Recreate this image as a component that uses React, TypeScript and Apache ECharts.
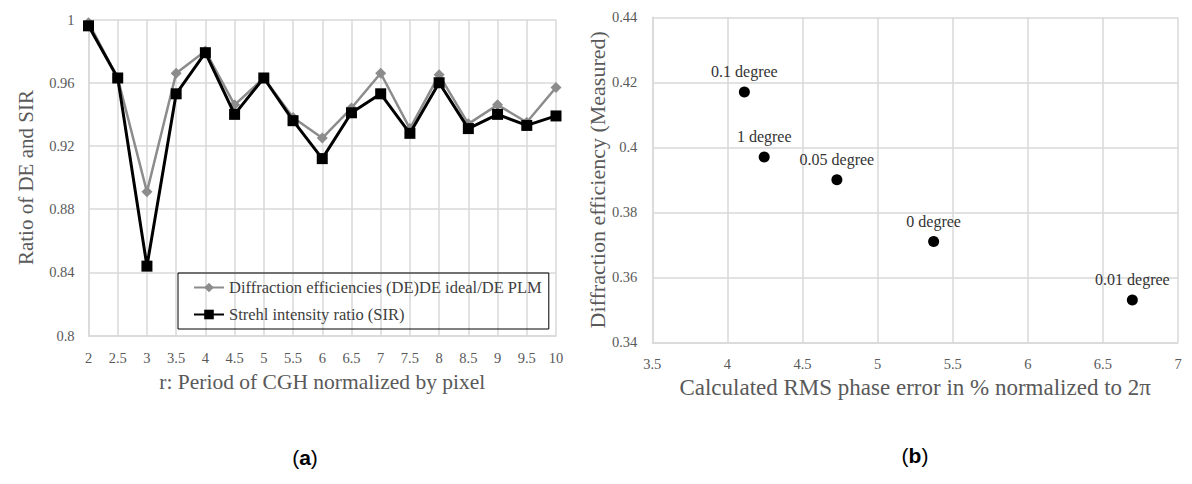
import React, { useEffect, useRef } from "react";
import * as echarts from "echarts";

const periods = [2, 2.5, 3, 3.5, 4, 4.5, 5, 5.5, 6, 6.5, 7, 7.5, 8, 8.5, 9, 9.5, 10];
const deRatio = [0.998, 0.963, 0.891, 0.966, 0.98, 0.946, 0.963, 0.938, 0.925, 0.944, 0.966, 0.931, 0.965, 0.934, 0.946, 0.935, 0.957];
const sirRatio = [0.996, 0.963, 0.844, 0.953, 0.979, 0.94, 0.963, 0.936, 0.912, 0.941, 0.953, 0.928, 0.96, 0.931, 0.94, 0.933, 0.939];

const rmsError = [4.113, 4.245, 4.729, 5.373, 6.696];
const measuredDE = [0.417, 0.397, 0.39, 0.371, 0.353];
const pointLabels = ["0.1 degree", "1 degree", "0.05 degree", "0 degree", "0.01 degree"];

const leftYTicks = [0.8, 0.84, 0.88, 0.92, 0.96, 1];

const FONT = "'Liberation Serif', 'DejaVu Serif', serif";
const GRID = "#d9d9d9";
const TICK = "#595959";

export default function App() {
  const ref = useRef<HTMLDivElement>(null);
  useEffect(() => {
    if (!ref.current) return;
    const chart = echarts.init(ref.current, null, { renderer: "svg" });
    const axisCommon = {
      axisLine: { show: true, lineStyle: { color: GRID, width: 1.5 } },
      axisTick: { show: false },
      splitLine: { show: true, lineStyle: { color: GRID, width: 1.5 } },
      nameLocation: "middle" as const,
    };
    const nameStyle = (size: number) => ({ fontFamily: FONT, color: TICK, fontSize: size });
    chart.setOption({
      animation: false,
      textStyle: { fontFamily: FONT },
      grid: [
        { left: 88.5, top: 19.5, width: 467.5, height: 316.2 },
        { left: 652.3, top: 17.3, width: 525.7, height: 325 },
      ],
      legend: {
        left: 178,
        top: 273,
        orient: "vertical",
        borderColor: "#000",
        borderWidth: 1,
        borderRadius: 0,
        padding: [6, 7, 6, 15],
        itemGap: 10,
        itemWidth: 30,
        itemHeight: 12,
        textStyle: { fontFamily: FONT, fontSize: 16.5, color: "#404040" },
        data: ["Diffraction efficiencies (DE)DE ideal/DE PLM", "Strehl intensity ratio (SIR)"],
      },
      xAxis: [
        {
          ...axisCommon,
          gridIndex: 0,
          type: "value",
          min: 2,
          max: 10,
          interval: 0.5,
          name: "r: Period of CGH normalized by pixel",
          nameGap: 34,
          nameTextStyle: nameStyle(21.5),
          axisLabel: { color: TICK, fontSize: 14.5, fontFamily: FONT, margin: 15 },
        },
        {
          ...axisCommon,
          gridIndex: 1,
          type: "value",
          min: 3.5,
          max: 7,
          interval: 0.5,
          name: "Calculated RMS phase error in % normalized to 2π",
          nameGap: 28,
          nameTextStyle: nameStyle(23),
          axisLabel: { color: TICK, fontSize: 14.5, fontFamily: FONT, margin: 14 },
        },
      ],
      yAxis: [
        {
          ...axisCommon,
          gridIndex: 0,
          type: "value",
          min: 0.8,
          max: 1,
          interval: 0.04,
          name: "Ratio of DE and SIR",
          nameGap: 52,
          nameTextStyle: nameStyle(21),
          axisLabel: {
            color: TICK,
            fontSize: 14.5,
            fontFamily: FONT,
            margin: 14,
            formatter: (v: number) => {
              const t = leftYTicks.find((x) => Math.abs(x - v) < 1e-6);
              return t === undefined ? "" : String(+t.toFixed(2));
            },
          },
        },
        {
          ...axisCommon,
          gridIndex: 1,
          type: "value",
          min: 0.34,
          max: 0.44,
          interval: 0.02,
          name: "Diffraction efficiency (Measured)",
          nameGap: 44,
          nameTextStyle: nameStyle(22),
          axisLabel: {
            color: TICK,
            fontSize: 14.5,
            fontFamily: FONT,
            margin: 15,
            formatter: (v: number) => String(+v.toFixed(2)),
          },
        },
      ],
      series: [
        {
          name: "Diffraction efficiencies (DE)DE ideal/DE PLM",
          type: "line",
          xAxisIndex: 0,
          yAxisIndex: 0,
          data: periods.map((p, i) => [p, deRatio[i]]),
          symbol: "diamond",
          symbolSize: 11,
          lineStyle: { color: "#8c8c8c", width: 2.5 },
          itemStyle: { color: "#8c8c8c" },
          z: 2,
        },
        {
          name: "Strehl intensity ratio (SIR)",
          type: "line",
          xAxisIndex: 0,
          yAxisIndex: 0,
          data: periods.map((p, i) => [p, sirRatio[i]]),
          symbol: "rect",
          symbolSize: 11,
          lineStyle: { color: "#000", width: 3 },
          itemStyle: { color: "#000" },
          z: 3,
        },
        {
          name: "measured",
          type: "scatter",
          xAxisIndex: 1,
          yAxisIndex: 1,
          data: rmsError.map((x, i) => ({ value: [x, measuredDE[i]], name: pointLabels[i] })),
          symbol: "circle",
          symbolSize: 11,
          itemStyle: { color: "#000", opacity: 1 },
          label: {
            show: true,
            position: "top",
            distance: 7,
            formatter: (p: any) => p.name,
            color: "#333",
            fontSize: 16,
            fontFamily: FONT,
          },
        },
      ],
      graphic: [
        {
          type: "text",
          x: 305,
          y: 457,
          style: {
            text: "({a|a})",
            rich: { a: { fontWeight: "bold", fontSize: 21, fontFamily: "'Liberation Sans', sans-serif", fill: "#000" } },
            fontSize: 21,
            fontFamily: "'Liberation Sans', sans-serif",
            fill: "#000",
            align: "center",
            verticalAlign: "middle",
          },
        },
        {
          type: "text",
          x: 915,
          y: 455,
          style: {
            text: "({a|b})",
            rich: { a: { fontWeight: "bold", fontSize: 21, fontFamily: "'Liberation Sans', sans-serif", fill: "#000" } },
            fontSize: 21,
            fontFamily: "'Liberation Sans', sans-serif",
            fill: "#000",
            align: "center",
            verticalAlign: "middle",
          },
        },
      ],
    });
    return () => chart.dispose();
  }, []);
  return (
    <div
      ref={ref}
      style={{ position: "fixed", left: 0, top: 0, width: 1192, height: 484, background: "#fff" }}
    />
  );
}
